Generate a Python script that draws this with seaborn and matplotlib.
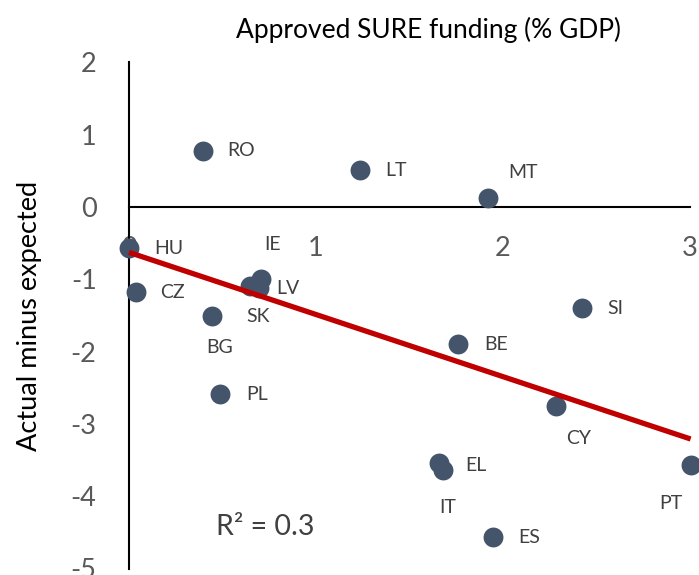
import numpy as np
import pandas as pd
import matplotlib
matplotlib.use("Agg")
import matplotlib.pyplot as plt
import seaborn as sns

countries = ["HU", "CZ", "RO", "BG", "PL", "SK", "IE", "LV", "LT", "MT",
             "BE", "SI", "CY", "EL", "IT", "ES", "PT"]
sure_funding = [0.003, 0.04, 0.40, 0.445, 0.49, 0.65, 0.71, 0.70, 1.24, 1.925,
                1.764, 2.425, 2.284, 1.66, 1.68, 1.948, 3.006]
actual_minus_expected = [-0.57, -1.18, 0.78, -1.51, -2.59, -1.09, -0.99, -1.12, 0.51, 0.13,
                         -1.895, -1.40, -2.75, -3.54, -3.64, -4.57, -3.57]
x_ticks = [0, 0.5, 1, 1.5, 2, 2.5, 3]
x_tick_labels = ["0", "", "1", "", "2", "", "3"]
y_ticks = [-5, -4, -3, -2, -1, 0, 1, 2]
title_text = "Approved SURE funding (% GDP)"
y_label_text = "Actual minus expected"
r2_text = "R² = 0.3"

# label offsets in pixels (dx, dy with y up) and alignment
label_style = {
    "HU": (25, 0, "left"), "CZ": (24, 0, "left"), "RO": (24, 0, "left"),
    "BG": (8, -31, "center"), "PL": (26, 0, "left"), "SK": (-4, -31, "left"),
    "IE": (11, 34, "center"), "LV": (17, -1, "left"), "LT": (25, 0, "left"),
    "MT": (20, 25, "left"), "BE": (26, 0, "left"), "SI": (25, 0, "left"),
    "CY": (23, -33, "center"), "EL": (26, -3, "left"), "IT": (5, -37, "center"),
    "ES": (25, 0, "left"), "PT": (-20, -38, "center"),
}

df = pd.DataFrame({"country": countries, "x": sure_funding, "y": actual_minus_expected})

sns.set_style("white")
plt.rcParams["font.family"] = ["Lato", "DejaVu Sans"]

dpi = 100
fig = plt.figure(figsize=(6.99, 5.75), dpi=dpi)
ax = fig.add_axes([0, 0, 1, 1])
ax.patch.set_alpha(0)

sns.regplot(data=df, x="x", y="y", ax=ax, ci=None,
            scatter_kws=dict(s=205, color="#44546A", alpha=1, linewidths=0, zorder=3),
            line_kws=dict(color="#C00000", lw=3.8, zorder=4, solid_capstyle="butt"))

px = 72.0 / dpi
for c, xv, yv in zip(countries, sure_funding, actual_minus_expected):
    dx, dy, ha = label_style[c]
    ax.annotate(c, (xv, yv), xytext=(dx * px, dy * px), textcoords="offset points",
                ha=ha, va="center", fontsize=14, color="#404040", zorder=5)

ax.set_xlim(-128.5 / 187, (699 - 128.5) / 187)
ax.set_ylim(-(575 - 207) / 72.3, 207 / 72.3)

for s in ["top", "right"]:
    ax.spines[s].set_visible(False)
ax.spines["left"].set_position(("data", 0))
ax.spines["bottom"].set_position(("data", 0))
ax.spines["left"].set_bounds(-5, 2)
ax.spines["bottom"].set_bounds(0, 3)
for s in ["left", "bottom"]:
    ax.spines[s].set_color("black")
    ax.spines[s].set_linewidth(1.5)
    ax.spines[s].set_zorder(1)

ax.set_xticks(x_ticks)
ax.set_xticklabels(x_tick_labels)
ax.set_yticks(y_ticks)
ax.set_yticklabels([str(v) for v in y_ticks])
ax.tick_params(axis="both", direction="inout", length=12, width=1.5, color="black",
               labelsize=19.5, labelcolor="#595959")
ax.tick_params(axis="x", pad=15)
ax.tick_params(axis="y", pad=17)
ax.set_xlabel("")
ax.set_ylabel("")

fig.text(428 / 699, 1 - 30 / 575, title_text, ha="center", va="center",
         fontsize=19, color="black")
fig.text(30 / 699, 1 - 316 / 575, y_label_text, ha="center", va="center",
         rotation=90, fontsize=19.5, color="black")
fig.text(265 / 699, 1 - 527 / 575, r2_text, ha="center", va="center",
         fontsize=20.5, color="#404040")

fig.savefig("out.png", dpi=dpi)
